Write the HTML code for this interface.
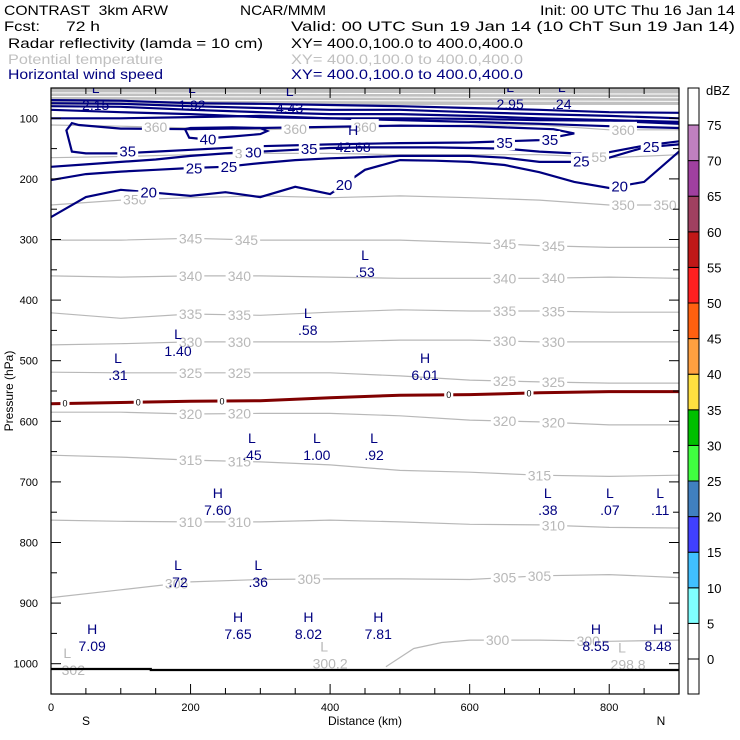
<!DOCTYPE html>
<html><head><meta charset="utf-8"><style>
html,body{margin:0;padding:0;background:#fff;}
svg{display:block;font-family:"Liberation Sans",sans-serif;}
text{white-space:pre;}
</style></head><body>
<svg id="chart" width="740" height="740" viewBox="0 0 740 740" xmlns="http://www.w3.org/2000/svg">
<g font-size="14">
<text x="4" y="15" textLength="164" lengthAdjust="spacingAndGlyphs">CONTRAST  3km ARW</text>
<text x="240" y="15" textLength="86" lengthAdjust="spacingAndGlyphs">NCAR/MMM</text>
<text x="540" y="15" textLength="195" lengthAdjust="spacingAndGlyphs">Init: 00 UTC Thu 16 Jan 14</text>
<text x="4" y="31" textLength="36" lengthAdjust="spacingAndGlyphs">Fcst:</text>
<text x="66" y="31" textLength="34" lengthAdjust="spacingAndGlyphs">72 h</text>
<text x="291" y="31" textLength="444" lengthAdjust="spacingAndGlyphs">Valid: 00 UTC Sun 19 Jan 14 (10 ChT Sun 19 Jan 14)</text>
<text x="8" y="48" textLength="255" lengthAdjust="spacingAndGlyphs">Radar reflectivity (lamda = 10 cm)</text>
<text x="291" y="48" textLength="232" lengthAdjust="spacingAndGlyphs">XY= 400.0,100.0 to 400.0,400.0</text>
<text x="8" y="64" fill="#c0c0c0" textLength="155" lengthAdjust="spacingAndGlyphs">Potential temperature</text>
<text x="291" y="64" fill="#c0c0c0" textLength="232" lengthAdjust="spacingAndGlyphs">XY= 400.0,100.0 to 400.0,400.0</text>
<text x="8" y="79" fill="#000080" textLength="155" lengthAdjust="spacingAndGlyphs">Horizontal wind speed</text>
<text x="291" y="79" fill="#000080" textLength="232" lengthAdjust="spacingAndGlyphs">XY= 400.0,100.0 to 400.0,400.0</text>
</g>
<g id="plot"></g>
<g id="cbar"></g>
</svg>
<script>
const NS="http://www.w3.org/2000/svg";
// ---- data ----
const kmSamples=[0,100,200,300,400,500,600,700,800,900];
const thetaLevels=[350,345,340,335,330,325,320,315,310,305];
const thetaP=[
[243,235,231,228,231,228,231,235,243,243],
[301,301,298,301,301,301,305,310,313,313],
[360,362,360,360,362,364,364,364,362,364],
[421,430,423,425,420,416,418,418,420,420],
[474,472,469,469,469,466,466,469,469,469],
[519,520,520,520,520,525,532,535,537,537],
[585,585,588,587,587,591,598,601,606,606],
[656,659,664,667,672,681,684,689,691,689],
[763,765,766,766,763,766,770,771,775,776],
[891,878,865,861,860,860,861,855,853,858]];
const theta360P=[111,113,116,119,116,113,111,111,119,119];
const theta355P=[165,163,160,158,158,160,160,160,165,160];
const theta300Km=[480,520,560,600,700,800,900];
const theta300P=[1005,975,965,961,961,963,961];
const freezeP=[571,569,567,566,561,557,556,553,551,551];
const windKm=[0,50,100,150,200,250,300,350,400,450,500,550,600,650,700,750,800,850,900];
const wind20P=[263,230,218,223,228,222,230,213,225,185,169,170,172,177,189,205,215,205,155];
const wind25P=[202,192,188,185,182,180,174,169,166,164,162,162,162,165,172,172,165,148,143];
const wind30P=[180,176,172,168,162,158,155,152,149,148,148,148,149,150,155,158,156,145,138];
const upperWindP=[
[70,71,75,76,78,80,83,86,90,91],
[75,76,80,83,86,86,90,93,96,100],
[80,81,86,90,93,93,96,100,103,106],
[86,90,93,98,100,100,101,103,104,109],
[100,100,98,96,100,103,106,109,113,116]];
const wind35Km=[22,30,50,100,150,200,300,400,500,600,700,750,720,650,600,500,400,300,200,100,40,30,22];
const wind35P=[120,155,158,158,155,152,146,143,141,140,136,125,118,115,113,112,114,116,118,117,111,108,120];
const wind40Km=[192,198,215,260,300,310,300,260,200,192];
const wind40P=[118,132,134,130,126,121,116,115,116,118];
const markLetters=["L","L","L","L","H","L","L","L","H","L","L","L","L","L","H","H","H","H","H","H","L","L","L","L","L","H"];
const markValues=[".31","1.40",".58",".53","6.01",".45","1.00",".92","7.60",".38",".07",".11",".72",".36","7.09","7.65","8.02","7.81","8.55","8.48","2.15","1.92","4.43","2.95",".24","42.68"];
const markKm=[96,182,368,450,536,288,381,463,239,712,801,873,182,297,59,268,369,469,781,870,64,202,342,658,732,433];
const markP=[524,484,449,354,524,656,656,656,746,746,746,746,865,865,971,951,951,951,971,971,78,78,83,76,76,147];
const grayLetters=["L","L","L"];
const grayValues=["302","300.2","298.8"];
const grayKm=[32,400,827];
const grayP=[1010,1000,1001];
const xTicks=[0,200,400,600,800];
const yTicks=[100,200,300,400,500,600,700,800,900,1000];
const cbLevels=[0,5,10,15,20,25,30,35,40,45,50,55,60,65,70,75];
const cbColors=["#ffffff","#80ffff","#40c0ff","#4040ff","#4080c0","#40ff40","#00c000","#ffe040","#ffa040","#ff6010","#ff2020","#c01818","#a04060","#a040a0","#c080c0"];
// ---- scales ----
const X0=51,X1=679,Y0=88,Y1=694;
const X=km=>X0+km*(X1-X0)/900;
const Y=p=>Y0+(p-50)*(Y1-Y0)/1000;
const plotG=document.getElementById('plot');
function el(tag,attrs,parent){const e=document.createElementNS(NS,tag);for(const k in attrs)e.setAttribute(k,attrs[k]);(parent||plotG).appendChild(e);return e;}
function pts(kms,ps){return kms.map((k,i)=>X(k).toFixed(1)+','+Y(ps[i]).toFixed(1)).join(' ');}
function interpP(kms,ps,k){for(let i=0;i<kms.length-1;i++){if(k>=kms[i]&&k<=kms[i+1]){const t=(k-kms[i])/(kms[i+1]-kms[i]);return ps[i]+t*(ps[i+1]-ps[i]);}}return ps[ps.length-1];}
let areaG=null;
function label(txt,kms,ps,k,color,size,name){
  const x=X(k),y=Y(interpP(kms,ps,k));
  const w=txt.length*size*0.56+4;
  const r=el('rect',{x:x-w/2,y:y-size/2-1,width:w,height:size+1,fill:'#fff'},areaG);
  
  
  const t=el('text',{x:x,y:y+size*0.36,'text-anchor':'middle','font-size':size,fill:color},areaG);
  
  
  t.textContent=txt;
}
const defsEl=el('defs',{});
const cpEl=el('clipPath',{id:'pc'},defsEl);
el('rect',{x:X0,y:Y0,width:X1-X0,height:Y1-Y0},cpEl);
areaG=el('g',{'clip-path':'url(#pc)'});


const gf=el('rect',{x:X0,y:Y0,width:X1-X0,height:Y(78)-Y0,fill:'#c0c0c0'},areaG);


[58,64,70].forEach(p=>{const l=el('line',{x1:X0,x2:X1,y1:Y(p),y2:Y(p+2),stroke:'#fff','stroke-width':1},areaG);

});
function thetaLine(kms,ps,lev){
  const l=el('polyline',{points:pts(kms,ps),fill:'none',stroke:'#b8b8b8','stroke-width':1.2},areaG);
  
  
}
thetaLevels.forEach((lev,i)=>thetaLine(kmSamples,thetaP[i],lev));
thetaLine(kmSamples,theta360P,360);
thetaLine(kmSamples,theta355P,355);
thetaLine(theta300Km,theta300P,300);
const fz=el('polyline',{points:pts(kmSamples,freezeP),fill:'none',stroke:'#800000','stroke-width':3},areaG);


function windLine(kms,ps,name,closed){
  const l=el(closed?'polygon':'polyline',{points:pts(kms,ps),fill:'none',stroke:'#000080','stroke-width':2.2},areaG);
  
  
}
upperWindP.forEach((ps,i)=>windLine(kmSamples,ps,'wind-contour-upper-'+i,false));
windLine(windKm,wind20P,'wind-contour-20',false);
windLine(windKm,wind25P,'wind-contour-25',false);
windLine(windKm,wind30P,'wind-contour-30',false);
windLine(wind35Km,wind35P,'wind-contour-35',true);
windLine(wind40Km,wind40P,'wind-contour-40',true);
const thetaLabelKm=[[120,820,880],[200,280,650,720],[200,270,650,720],[200,270,650,720],[200,270,650,720],[200,270,650,720],[200,270,650,720],[200,270,700],[200,270,720],[180,370,650,700]];
thetaLevels.forEach((lev,i)=>thetaLabelKm[i].forEach(k=>label(String(lev),kmSamples,thetaP[i],k,'#b8b8b8',14,'theta-label-'+lev)));
[150,350,450,820].forEach(k=>label('360',kmSamples,theta360P,k,'#b8b8b8',14,'theta-label-360'));
[280,780].forEach(k=>label('355',kmSamples,theta355P,k,'#b8b8b8',14,'theta-label-355'));
[640,770].forEach(k=>label('300',theta300Km,theta300P,k,'#b8b8b8',14,'theta-label-300'));
[20,125,245,570,685].forEach(k=>label('0',kmSamples,freezeP,k,'#000',9,'freezing-label'));
[140,420].forEach(k=>label('20',windKm,wind20P,k,'#000080',15,'wind-label-20'));
[205,255].forEach(k=>label('25',windKm,wind25P,k,'#000080',15,'wind-label-25'));
[290].forEach(k=>label('30',windKm,wind30P,k,'#000080',15,'wind-label-30'));
[110,370].forEach(k=>label('35',[0,900],[156,142],k,'#000080',15,'wind-label-35'));
label('40',[0,900],[134,134],225,'#000080',15,'wind-label-40');
label('25',windKm,wind25P,760,'#000080',15,'wind-label-25');
label('25',windKm,wind25P,860,'#000080',15,'wind-label-25');
label('20',windKm,wind20P,815,'#000080',15,'wind-label-20');
label('35',[0,900],[140,140],650,'#000080',15,'wind-label-35');
label('35',[0,900],[135,135],715,'#000080',15,'wind-label-35');
markLetters.forEach((L,i)=>{
  const x=X(markKm[i]),y=Y(markP[i]);
  const a=el('text',{x:x,y:y-12,'text-anchor':'middle','font-size':14,fill:'#000080'},areaG);
  
  
  a.textContent=L;
  const b=el('text',{x:x,y:y+5,'text-anchor':'middle','font-size':14,fill:'#000080'},areaG);
  
  
  b.textContent=markValues[i];
});
grayLetters.forEach((L,i)=>{
  const x=X(grayKm[i]),y=Y(grayP[i]);
  const a=el('text',{x:x-6,y:y-12,'text-anchor':'middle','font-size':14,fill:'#b8b8b8'},areaG);
  
  
  a.textContent=L;
  const b=el('text',{x:x,y:y+5,'text-anchor':'middle','font-size':14,fill:'#b8b8b8'},areaG);
  
  
  b.textContent=grayValues[i];
});
const gl=el('polyline',{points:X(0)+',669 '+X(143)+',669 '+X(143)+',670 '+X(900)+',670',fill:'none',stroke:'#000','stroke-width':2.2},areaG);


const fr=el('rect',{x:X0,y:Y0,width:X1-X0,height:Y1-Y0,fill:'none',stroke:'#000','stroke-width':1.2});


for(let k=0;k<=900;k+=50){
  const len=(k%200===0)?10:6;
  const t1=el('line',{x1:X(k),x2:X(k),y1:Y1,y2:Y1-len,stroke:'#000'});
  
  
  const t2=el('line',{x1:X(k),x2:X(k),y1:Y0,y2:Y0+len,stroke:'#000'});
  
  
}
xTicks.forEach(k=>{const t=el('text',{x:X(k),y:711,'text-anchor':'middle','font-size':11});


t.textContent=k;});
for(let p=100;p<=1050;p+=50){
  const len=(p%100===0)?10:6;
  const t1=el('line',{x1:X0,x2:X0+len,y1:Y(p),y2:Y(p),stroke:'#000'});
  
  
  const t2=el('line',{x1:X1,x2:X1-len,y1:Y(p),y2:Y(p),stroke:'#000'});
  
  
}
yTicks.forEach(p=>{const t=el('text',{x:38,y:Y(p)+4,'text-anchor':'end','font-size':11});


t.textContent=p;});
const xt=el('text',{x:365,y:725,'text-anchor':'middle','font-size':12});


xt.textContent='Distance (km)';
const sL=el('text',{x:86,y:725,'text-anchor':'middle','font-size':12});


sL.textContent='S';
const nL=el('text',{x:661,y:725,'text-anchor':'middle','font-size':12});


nL.textContent='N';
const yt=el('text',{x:0,y:0,'text-anchor':'middle','font-size':12,transform:'translate(13,391) rotate(-90)'});


yt.textContent='Pressure (hPa)';
const cbG=document.getElementById('cbar');
const CX=688,CW=11,cb0=659,step=35.6;
const cbY=v=>cb0-(v/5)*step;
const botBox=el('rect',{x:CX,y:cb0,width:CW,height:Y1-cb0,fill:'#fff',stroke:'#000'},cbG);


cbColors.forEach((c,i)=>{const r=el('rect',{x:CX,y:cbY(cbLevels[i+1]),width:CW,height:step,fill:c,stroke:'#000'},cbG);

});
const topBox=el('rect',{x:CX,y:Y0,width:CW,height:cbY(75)-Y0,fill:'#fff',stroke:'#000'},cbG);


cbLevels.forEach(v=>{const t=el('text',{x:707,y:cbY(v)+5,'font-size':13},cbG);


t.textContent=v;});
const unitT=el('text',{x:706,y:95,'font-size':13},cbG);


unitT.textContent='dBZ';
</script>
</body></html>
